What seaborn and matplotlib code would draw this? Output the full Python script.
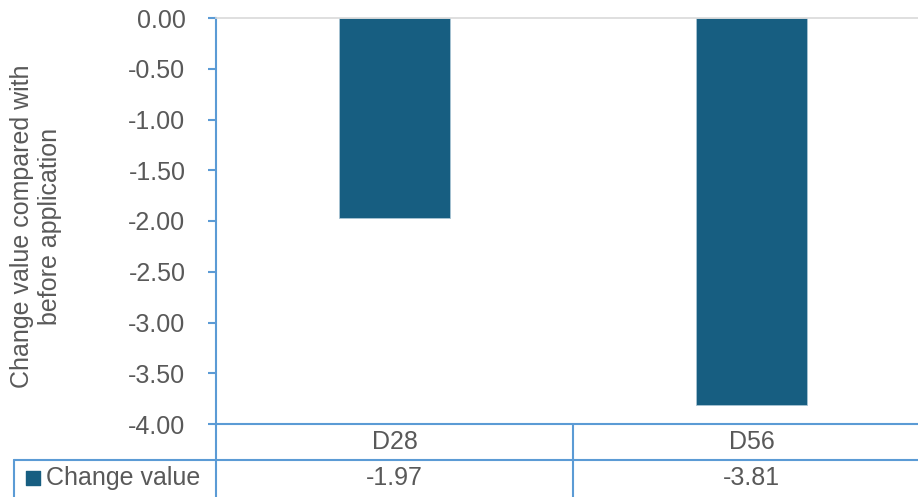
import numpy as np
import pandas as pd
import matplotlib.pyplot as plt
import seaborn as sns

categories = ['D28', 'D56']
change_values = [-1.97, -3.81]
y_ticks = [0.0, -0.5, -1.0, -1.5, -2.0, -2.5, -3.0, -3.5, -4.0]
series_name = 'Change value'

bar_color = '#175e81'
line_color = '#5b9bd5'
text_color = '#595959'
fs = 18

sns.set_theme(style='white')
plt.rcParams['font.family'] = ['Liberation Sans', 'DejaVu Sans']

W, H = 918, 497
fig = plt.figure(figsize=(W / 100, H / 100), dpi=100)
# plot area in pixels: left 216, top 18, bottom 424, category width 357
left, top, bottom, cat_w = 216, 18, 424, 357
ax = fig.add_axes([left / W, (H - bottom) / H, 2 * cat_w / W, (bottom - top) / H])

df = pd.DataFrame({'day': categories, 'value': change_values})
sns.barplot(data=df, x='day', y='value', color=bar_color, width=0.31,
            saturation=1, ax=ax, edgecolor='#a9c4d4', linewidth=0.6)

ax.set_xlim(-0.5, 1.5)
ax.set_ylim(-4.0, 0.0)
ax.set_yticks(y_ticks)
ax.set_yticklabels([f'{v:.2f}' for v in y_ticks], color=text_color, fontsize=fs)
ax.set_xticks([])
ax.set_xlabel('')
ax.set_ylabel('')
fig.text(36 / W, 1 - 226 / H, 'Change value compared with\nbefore application',
         rotation=90, ha='center', va='center', multialignment='center',
         color=text_color, fontsize=fs, linespacing=1.25)

ax.spines['right'].set_visible(False)
ax.spines['top'].set_color('#d9d9d9')
ax.spines['top'].set_linewidth(1.2)
for side in ['left', 'bottom']:
    ax.spines[side].set_color(line_color)
    ax.spines[side].set_linewidth(1.5)
ax.tick_params(axis='y', direction='out', length=6, width=1.5, color=line_color,
               left=True, pad=16)

# data table below the axis
row = 36 / (bottom - top)
tr = ax.get_xaxis_transform()
x_left_border = -0.5 + (14 - left) / cat_w
ax.plot([x_left_border, 1.6], [-row, -row], transform=tr, color=line_color,
        lw=1.5, clip_on=False)
for xv in [-0.5, 0.5]:
    ax.plot([xv, xv], [0, -2.1 * row], transform=tr, color=line_color,
            lw=1.5, clip_on=False)
ax.plot([x_left_border, x_left_border], [-row, -2.1 * row], transform=tr,
        color=line_color, lw=1.5, clip_on=False)

for i, (cat, val) in enumerate(zip(categories, change_values)):
    ax.text(i, -0.5 * row, cat, transform=tr, ha='center', va='center',
            color=text_color, fontsize=fs)
    ax.text(i, -1.5 * row, f'{val:.2f}', transform=tr, ha='center', va='center',
            color=text_color, fontsize=fs)

key_x = -0.5 + (33 - left) / cat_w
ax.scatter([key_x], [-1.5 * row], transform=tr, marker='s', s=110,
           color=bar_color, clip_on=False)
ax.text(-0.5 + (46 - left) / cat_w, -1.5 * row, series_name, transform=tr,
        ha='left', va='center', color=text_color, fontsize=fs)

fig.savefig('out.png', dpi=100)
